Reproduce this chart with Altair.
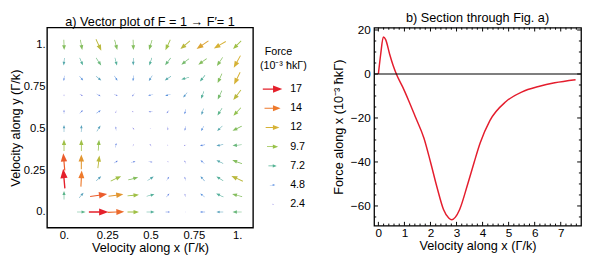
import altair as alt
import pandas as pd

FONT = "Liberation Sans"

# ---------------- Panel a: vector field ----------------
GRID_X = [0.0, 0.1, 0.2, 0.3, 0.4, 0.5, 0.6, 0.7, 0.8, 0.9, 1.0]
ROW_Y = [1.0, 0.9, 0.8, 0.7, 0.6, 0.5, 0.4, 0.3, 0.2, 0.1, 0.0]

# force magnitude (10^-3 hbar k Gamma), one row per vy (top row first)
MAG_ROWS = [
    [9.0, 9.0, 11.0, 9.0, 9.0, 9.0, 10.0, 11.0, 12.5, 12.0, 10.0],
    [6.5, 7.0, 8.0, 7.0, 6.5, 7.0, 8.0, 8.5, 9.0, 9.0, 12.0],
    [4.5, 5.0, 6.0, 5.0, 5.0, 5.5, 6.5, 7.0, 7.0, 9.0, 12.0],
    [2.0, 3.0, 4.0, 3.5, 3.5, 4.5, 5.0, 5.5, 7.0, 8.5, 11.0],
    [3.5, 4.0, 4.5, 2.5, 2.5, 3.5, 3.5, 4.5, 6.0, 7.5, 9.5],
    [6.0, 6.0, 6.0, 3.5, 2.5, 1.5, 3.0, 4.0, 5.0, 6.5, 9.0],
    [10.0, 10.0, 9.5, 4.0, 2.0, 2.5, 1.5, 2.5, 4.5, 6.0, 8.0],
    [15.0, 13.0, 11.0, 4.0, 4.0, 3.5, 1.5, 3.0, 4.5, 6.5, 9.0],
    [17.0, 14.0, 6.0, 10.0, 9.0, 6.5, 4.0, 3.5, 5.5, 7.0, 11.0],
    [7.5, 6.0, 15.0, 13.0, 10.0, 7.0, 4.0, 3.0, 5.0, 7.0, 9.0],
    [0.0, 7.5, 17.0, 14.5, 10.0, 7.0, 4.0, 1.0, 4.5, 6.0, 8.0],
]
# force direction, degrees counter-clockwise from +vx
DIR_ROWS = [
    [272, 280, 295, 285, 272, 253, 245, 221, 214, 210, 225],
    [265, 294, 304, 285, 270, 252, 233, 218, 216, 236, 241],
    [265, 310, 320, 303, 265, 236, 214, 195, 230, 245, 244],
    [270, 330, 330, 340, 230, 190, 200, 230, 250, 245, 233],
    [90, 45, 35, 250, 180, 180, 230, 255, 253, 237, 227],
    [90, 87, 57, 95, 320, 200, 270, 260, 240, 225, 207],
    [90, 90, 85, 83, 60, 130, 270, 210, 190, 190, 185],
    [95, 90, 83, 30, 10, 0, 0, 120, 140, 155, 160],
    [95, 87, 43, 25, 15, 33, 55, 110, 130, 148, 155],
    [90, 50, 8, 8, 5, 15, 50, 105, 140, 155, 165],
    [0, 0, 0, 2, 0, 0, 0, 0, 180, 180, 180],
]

TICKS_A = [0, 0.25, 0.5, 0.75, 1]

LEG_VALUES = [17, 14, 12, 9.7, 7.2, 4.8, 2.4]
LEG_LABELS = ["17", "14", "12", "9.7", "7.2", "4.8", "2.4"]
COLOR_DOMAIN = [2.4, 4.8, 7.2, 9.7, 12, 14, 17]
COLOR_RANGE = ["#6f66dc", "#5a8fe2", "#54b394", "#98c249", "#d6b236", "#ee7a2c", "#e4202b"]

# ---------------- Panel b: section ----------------
SEC_V = [0.0, 0.09, 0.19, 0.28, 0.43, 0.56, 0.69, 0.94, 1.18, 1.43, 1.75, 2.0, 2.25,
         2.5, 2.7, 2.82, 2.95, 3.12, 3.43, 3.68, 3.91, 4.28, 4.9, 5.52, 6.15, 6.77, 7.57]
SEC_F = [0.0, 9.1, 16.8, 15.6, 9.1, 4.1, 0.0, -6.1, -12.6, -19.8, -29.2, -40.0, -51.5,
         -61.6, -65.5, -66.3, -65.2, -61.6, -50.0, -40.0, -31.3, -21.2, -12.5, -8.1, -5.7, -4.0, -2.6]
MAJ_X = [0, 1, 2, 3, 4, 5, 6, 7]
MIN_X = [round(i * 0.2, 1) for i in range(39) if i % 5 != 0]
MAJ_Y = [-60, -40, -20, 0, 20]
MIN_Y = [-65, -55, -50, -45, -35, -30, -25, -15, -10, -5, 5, 10, 15]

ARROW = "M-1,-0.07L0.05,-0.07L0.05,-0.37L1,0L0.05,0.37L0.05,0.07L-1,0.07Z"

WA, HA = 211, 205
WL, HL = 77, 205
WB, HB = 212, 203
XB_DOM = [-0.165, 7.78]
YB_DOM = [-69.0, 21.1]

rows = []
for yi, vy in enumerate(ROW_Y):
    for xi, vx in enumerate(GRID_X):
        if MAG_ROWS[yi][xi] > 0:
            rows.append({"vx": vx, "vy": vy, "mag": MAG_ROWS[yi][xi], "dir": DIR_ROWS[yi][xi]})
df_field = pd.DataFrame(rows)

color_scale = alt.Scale(domain=COLOR_DOMAIN, range=COLOR_RANGE, clamp=True, interpolate="rgb")
size_scale = alt.Scale(type="pow", exponent=2, domain=[0, 17], range=[0, 400])

lab_expr = "datum.value == 0 ? '0.' : datum.value == 1 ? '1.' : datum.label"

panel_a = alt.Chart(df_field).transform_calculate(
    rot="(360 - datum.dir) % 360"
).mark_point(shape=ARROW, filled=True, opacity=1, strokeWidth=0).encode(
    x=alt.X("vx:Q", scale=alt.Scale(domain=[-0.098, 1.092], nice=False, zero=False),
            axis=alt.Axis(values=TICKS_A, format=".2~f", labelExpr=lab_expr,
                          title="Velocity along x (Γ/k)",
                          ticks=False, domain=False, grid=False, labelPadding=2,
                          titlePadding=1, labelFontSize=11.5, titleFontSize=13)),
    y=alt.Y("vy:Q", scale=alt.Scale(domain=[-0.094, 1.104], nice=False, zero=False),
            axis=alt.Axis(values=TICKS_A, format=".2~f", labelExpr=lab_expr,
                          title="Velocity along y (Γ/k)",
                          ticks=False, domain=False, grid=False, labelPadding=2,
                          titlePadding=1, labelFontSize=11.5, titleFontSize=13)),
    color=alt.Color("mag:Q", scale=color_scale, legend=None),
    size=alt.Size("mag:Q", scale=size_scale, legend=None),
    angle=alt.Angle("rot:Q", scale=None),
).properties(
    width=WA, height=HA,
    title=alt.TitleParams("a) Vector plot of F = 1 → F′= 1", fontSize=13, anchor="middle", offset=-1),
    view=alt.ViewBackground(stroke="black", strokeWidth=1.4),
)

# ---------------- legend ----------------
leg_df = pd.DataFrame({"mag": LEG_VALUES, "label": LEG_LABELS, "idx": list(range(len(LEG_VALUES)))})
leg_y = alt.Y("idx:Q", scale=alt.Scale(domain=[0, 6], range=[63, 181]), axis=None)
leg_arrows = alt.Chart(leg_df).mark_point(shape=ARROW, filled=True, opacity=1, strokeWidth=0).encode(
    x=alt.value(18), y=leg_y,
    color=alt.Color("mag:Q", scale=color_scale, legend=None),
    size=alt.Size("mag:Q", scale=size_scale, legend=None),
)
leg_text = alt.Chart(leg_df).mark_text(align="left", baseline="middle", fontSize=11, font=FONT).encode(
    x=alt.value(36), y=leg_y, text="label:N"
)
head1 = alt.Chart(pd.DataFrame({"t": ["Force"]})).mark_text(
    align="center", baseline="middle", fontSize=11, font=FONT).encode(
    x=alt.value(24), y=alt.value(25), text="t:N")
head2 = alt.Chart(pd.DataFrame({"t": ["(10⁻³ ħkΓ)"]})).mark_text(
    align="center", baseline="middle", fontSize=11, font=FONT).encode(
    x=alt.value(29), y=alt.value(39), text="t:N")
legend = alt.layer(leg_arrows, leg_text, head1, head2).properties(
    width=WL, height=HL, view=alt.ViewBackground(stroke="transparent"))

# ---------------- Panel b ----------------
xs_b = alt.Scale(domain=XB_DOM, nice=False, zero=False)
ys_b = alt.Scale(domain=YB_DOM, nice=False, zero=False)
x_axis_b = alt.Axis(values=MAJ_X, format="d", title="Velocity along x (Γ/k)", ticks=False,
                    domain=False, grid=False, labelPadding=2, titlePadding=1,
                    labelFontSize=12, titleFontSize=13)
y_axis_b = alt.Axis(values=MAJ_Y, title="Force along x (10⁻³ ħkΓ)", ticks=False,
                    domain=False, grid=False, labelPadding=4, titlePadding=5,
                    labelFontSize=12, titleFontSize=13)

sec_df = pd.DataFrame({"v": SEC_V, "f": SEC_F})
curve = alt.Chart(sec_df).mark_line(color="#e41d2d", strokeWidth=1.5, interpolate="monotone").encode(
    x=alt.X("v:Q", scale=xs_b, axis=x_axis_b), y=alt.Y("f:Q", scale=ys_b, axis=y_axis_b))
zero = alt.Chart(pd.DataFrame({"f": [0]})).mark_rule(color="black", strokeWidth=1.2).encode(
    y=alt.Y("f:Q", scale=ys_b, axis=y_axis_b))

# inward frame ticks, lengths given in pixels and converted to data units of each scale
PX_X = (XB_DOM[1] - XB_DOM[0]) / WB
PX_Y = (YB_DOM[1] - YB_DOM[0]) / HB

tick_rows = []
for v in MAJ_X + MIN_X:
    ln = 4 if v in MAJ_X else 2.2
    tick_rows.append({"x": v, "x2": v, "y": YB_DOM[0], "y2": YB_DOM[0] + ln * PX_Y})
    tick_rows.append({"x": v, "x2": v, "y": YB_DOM[1], "y2": YB_DOM[1] - ln * PX_Y})
for f in MAJ_Y + MIN_Y:
    ln = 4 if f in MAJ_Y else 2.2
    tick_rows.append({"x": XB_DOM[0], "x2": XB_DOM[0] + ln * PX_X, "y": f, "y2": f})
    tick_rows.append({"x": XB_DOM[1], "x2": XB_DOM[1] - ln * PX_X, "y": f, "y2": f})
ticks = alt.Chart(pd.DataFrame(tick_rows)).mark_rule(color="black", strokeWidth=1).encode(
    x=alt.X("x:Q", scale=xs_b, axis=x_axis_b), x2="x2:Q",
    y=alt.Y("y:Q", scale=ys_b, axis=y_axis_b), y2="y2:Q",
)

panel_b = alt.layer(curve, zero, ticks).properties(
    width=WB, height=HB,
    title=alt.TitleParams("b) Section through Fig. a)", fontSize=13, anchor="middle", offset=-1),
    view=alt.ViewBackground(stroke="black", strokeWidth=1.3),
)

chart = alt.hconcat(panel_a, legend, panel_b, spacing=0).resolve_scale(
    color="independent", size="independent"
).properties(padding=0).configure_axis(
    labelFont=FONT, titleFont=FONT, labelColor="black", titleColor="black", titleFontWeight="normal"
).configure_title(font=FONT, fontWeight="normal", color="black")

chart.save("out.html", embed_options={"renderer": "svg", "actions": False})
